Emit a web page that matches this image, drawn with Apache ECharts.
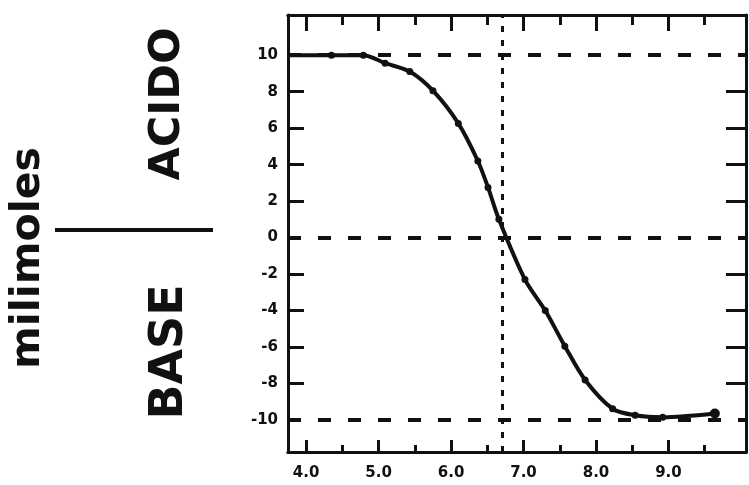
<!DOCTYPE html>
<html>
<head>
<meta charset="utf-8">
<style>
  html, body { margin: 0; padding: 0; background: #fff; }
  #main { width: 749px; height: 485px; }
</style>
<script src="https://cdn.jsdelivr.net/npm/echarts@6/dist/echarts.min.js"></script>
</head>
<body>
<div id="main"></div>
<script>
// pH (x) vs milimoles (acido +, base -)
var phValues   = [3.76, 4.35, 4.79, 5.09, 5.43, 5.75, 6.10, 6.37, 6.51, 6.66, 7.02, 7.30, 7.57, 7.85, 8.23, 8.54, 8.92, 9.64];
var mmolValues = [10.0, 10.0, 10.0, 9.56, 9.10, 8.05, 6.26, 4.20, 2.75, 1.00, -2.30, -4.00, -5.95, -7.80, -9.38, -9.74, -9.85, -9.64];

var xLabels = [4, 5, 6, 7, 8, 9];
var xHalfTicks = [4.5, 5.5, 6.5, 7.5, 8.5, 9.5];
var yLabels = [10, 8, 6, 4, 2, 0, -2, -4, -6, -8, -10];
var yTicks = [8, 6, 4, 2, -2, -4, -6, -8];
var refLevels = [10, 0, -10];
var pKa = 6.7;

var chartDom = document.getElementById('main');
var myChart = echarts.init(chartDom);
var option;

var ink = '#111';
var labelFont = { color: ink, fontFamily: 'DejaVu Sans', fontWeight: 'bold', fontSize: 15 };

function curveData() {
  var data = [];
  for (var i = 0; i < phValues.length; i++) {
    var item = { value: [phValues[i], mmolValues[i]] };
    if (i === 0) item.symbol = 'none';
    if (i === phValues.length - 1) item.symbolSize = 10;
    data.push(item);
  }
  return data;
}

function markLines() {
  var lines = [];
  refLevels.forEach(function (v) {
    lines.push({ yAxis: v, lineStyle: { type: [13, 17], width: 4, color: ink } });
  });
  lines.push({ xAxis: pKa, lineStyle: { type: [6, 8], width: 3, color: ink } });
  return lines;
}

function xAxisCfg(pos, ticks, len, labels) {
  return {
    type: 'value', position: pos, min: 3.75, max: 10.07,
    splitLine: { show: false },
    axisLine: { show: true, onZero: false, lineStyle: { color: ink, width: 3 } },
    axisTick: { show: true, inside: true, length: len, customValues: ticks, lineStyle: { color: ink, width: 3 } },
    axisLabel: labels ? Object.assign({ show: true, margin: 14, customValues: xLabels,
      formatter: function (v) { return v.toFixed(1); } }, labelFont) : { show: false }
  };
}

function yAxisCfg(pos, len, labels) {
  return {
    type: 'value', position: pos, min: -11.75, max: 12.2,
    splitLine: { show: false },
    axisLine: { show: true, onZero: false, lineStyle: { color: ink, width: 3 } },
    axisTick: { show: true, inside: true, length: len, customValues: yTicks, lineStyle: { color: ink, width: 3 } },
    axisLabel: labels ? Object.assign({ show: true, margin: 10, customValues: yLabels }, labelFont) : { show: false }
  };
}

option = {
  animation: false,
  backgroundColor: '#fff',
  grid: { left: 288, top: 15, right: 3, bottom: 33 },
  xAxis: [
    xAxisCfg('bottom', xLabels, 12, true),
    xAxisCfg('bottom', xHalfTicks, 7, false),
    xAxisCfg('top', xLabels, 16, false),
    xAxisCfg('top', xHalfTicks, 10, false)
  ],
  yAxis: [
    yAxisCfg('left', 16, true),
    yAxisCfg('right', 20, false)
  ],
  graphic: [
    { type: 'text', x: 28, y: 258, rotation: Math.PI / 2,
      style: { text: 'milimoles', fill: ink, font: 'bold 41px "DejaVu Sans"', align: 'center', verticalAlign: 'middle' } },
    { type: 'text', x: 168, y: 104, rotation: Math.PI / 2,
      style: { text: 'ACIDO', fill: ink, font: 'bold 43px "DejaVu Sans"', align: 'center', verticalAlign: 'middle' } },
    { type: 'text', x: 170, y: 352, rotation: Math.PI / 2,
      style: { text: 'BASE', fill: ink, font: 'bold 46px "DejaVu Sans"', align: 'center', verticalAlign: 'middle' } },
    { type: 'line', shape: { x1: 55, y1: 230, x2: 213, y2: 230 }, style: { stroke: ink, lineWidth: 4 } }
  ],
  series: [
    {
      type: 'line',
      xAxisIndex: 0,
      yAxisIndex: 0,
      smooth: 0.3,
      symbol: 'circle',
      symbolSize: 7,
      itemStyle: { color: ink },
      lineStyle: { color: ink, width: 4 },
      data: curveData(),
      z: 5,
      markLine: {
        silent: true,
        symbol: 'none',
        label: { show: false },
        data: markLines()
      }
    }
  ]
};

myChart.setOption(option);
</script>
</body>
</html>
